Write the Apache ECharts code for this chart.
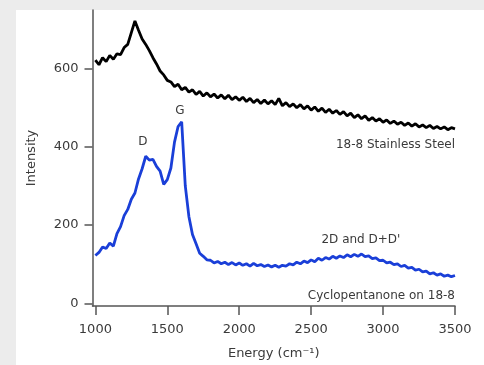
<!DOCTYPE html>
<html>
<head>
<meta charset="utf-8">
<script src="https://cdn.jsdelivr.net/npm/echarts@6/dist/echarts.min.js"></script>
<style>
  html, body { margin: 0; padding: 0; background: #ececec; }
  #chart { width: 484px; height: 365px; }
</style>
</head>
<body>
<div id="chart"></div>
<script>
// energy axis (cm-1)
const energy = [
  1000, 1025, 1050, 1075, 1100, 1125, 1150, 1175, 1200, 1225,
  1250, 1275, 1300, 1325, 1350, 1375, 1400, 1425, 1450, 1475,
  1500, 1525, 1550, 1575, 1600, 1625, 1650, 1675, 1700, 1725,
  1750, 1775, 1800, 1825, 1850, 1875, 1900, 1925, 1950, 1975,
  2000, 2025, 2050, 2075, 2100, 2125, 2150, 2175, 2200, 2225,
  2250, 2275, 2300, 2325, 2350, 2375, 2400, 2425, 2450, 2475,
  2500, 2525, 2550, 2575, 2600, 2625, 2650, 2675, 2700, 2725,
  2750, 2775, 2800, 2825, 2850, 2875, 2900, 2925, 2950, 2975,
  3000, 3025, 3050, 3075, 3100, 3125, 3150, 3175, 3200, 3225,
  3250, 3275, 3300, 3325, 3350, 3375, 3400, 3425, 3450, 3475,
  3500
];

// 18-8 stainless steel
const steel = [
  622, 610, 628, 618, 634, 624, 638, 636, 654, 662,
  692, 722, 698, 676, 662, 646, 628, 612, 594, 584,
  570, 566, 554, 560, 546, 552, 540, 546, 534, 542,
  530, 538, 528, 535, 525, 533, 523, 532, 521, 528,
  519, 527, 516, 524, 513, 521, 511, 520, 510, 518,
  508, 524, 505, 513, 503, 510, 500, 508, 497, 505,
  494, 502, 491, 499, 488, 496, 486, 493, 483, 490,
  479, 486, 475, 482, 472, 479, 468, 475, 466, 472,
  463, 469, 460, 466, 458, 463, 455, 461, 453, 459,
  451, 456, 449, 455, 447, 452, 446, 451, 444, 449,
  446
];

// cyclopentanone on 18-8
const cyclo = [
  122, 130, 144, 140, 154, 146, 178, 196, 224, 240,
  266, 282, 318, 344, 376, 366, 368, 350, 338, 304,
  316, 346, 412, 452, 464, 300, 222, 176, 152, 128,
  120, 111, 110, 103, 107, 101, 105, 99, 104, 98,
  103, 97, 101, 95, 102, 96, 99, 94, 98, 93,
  97, 92, 97, 95, 101, 98, 105, 101, 108, 104,
  111, 106, 115, 110, 117, 113, 120, 115, 121, 117,
  124, 119, 125, 120, 126, 119, 121, 114, 116, 109,
  110, 103, 105, 99, 101, 94, 97, 90, 92, 85,
  87, 80, 82, 75, 78, 72, 75, 69, 72, 68,
  71
];

const xTicks = [1000, 1500, 2000, 2500, 3000, 3500];
const yTicks = [0, 200, 400, 600];

const font = 'DejaVu Sans';
const textColor = '#3a3a3a';

const chart = echarts.init(document.getElementById('chart'), null, {renderer: 'canvas'});

function pairs(ys) {
  return energy.map((e, i) => [e, ys[i]]);
}

function note(text, coord, align) {
  return {
    coord: coord,
    symbolSize: 0,
    label: {
      show: true,
      position: 'inside',
      formatter: text,
      align: align || 'center',
      color: textColor,
      fontFamily: font,
      fontSize: 12
    }
  };
}

const option = {
  backgroundColor: '#ececec',
  animation: false,
  graphic: [{
    type: 'rect',
    silent: true,
    z: -10,
    shape: {x: 16, y: 10, width: 470, height: 360},
    style: {fill: '#ffffff'}
  }],
  grid: {left: 92.5, right: 29, top: 10, bottom: 53.3},
  xAxis: {
    type: 'value',
    min: 980,
    max: 3500,
    name: 'Energy (cm⁻¹)',
    nameLocation: 'middle',
    nameGap: 41,
    nameTextStyle: {color: textColor, fontFamily: font, fontSize: 13},
    splitLine: {show: false},
    axisLine: {show: true, onZero: false, lineStyle: {color: '#555', width: 1.5}},
    axisTick: {show: true, length: 9, customValues: xTicks, lineStyle: {color: '#555', width: 1.5}},
    axisLabel: {
      customValues: xTicks, margin: 17, color: textColor, fontFamily: font, fontSize: 13,
      formatter: v => String(v)
    }
  },
  yAxis: {
    type: 'value',
    min: -7,
    max: 750,
    name: 'Intensity',
    nameLocation: 'middle',
    nameGap: 54,
    nameTextStyle: {color: textColor, fontFamily: font, fontSize: 13},
    splitLine: {show: false},
    axisLine: {show: true, lineStyle: {color: '#555', width: 1.5}},
    axisTick: {show: true, length: 8, customValues: yTicks, lineStyle: {color: '#555', width: 1.5}},
    axisLabel: {
      customValues: yTicks, margin: 14, color: textColor, fontFamily: font, fontSize: 13,
      formatter: v => String(v)
    }
  },
  series: [
    {
      name: '18-8 Stainless Steel',
      type: 'line',
      data: pairs(steel),
      showSymbol: false,
      lineStyle: {color: '#000000', width: 2.8},
      markPoint: {
        symbol: 'circle',
        data: [note('18-8 Stainless Steel', [3500, 404], 'right')]
      }
    },
    {
      name: 'Cyclopentanone on 18-8',
      type: 'line',
      data: pairs(cyclo),
      showSymbol: false,
      lineStyle: {color: '#1a3fd8', width: 2.8},
      markPoint: {
        symbol: 'circle',
        data: [
          note('D', [1330, 414]),
          note('G', [1588, 492]),
          note("2D and D+D'", [2846, 163]),
          note('Cyclopentanone on 18-8', [3500, 18], 'right')
        ]
      }
    }
  ]
};

chart.setOption(option);
</script>
</body>
</html>
